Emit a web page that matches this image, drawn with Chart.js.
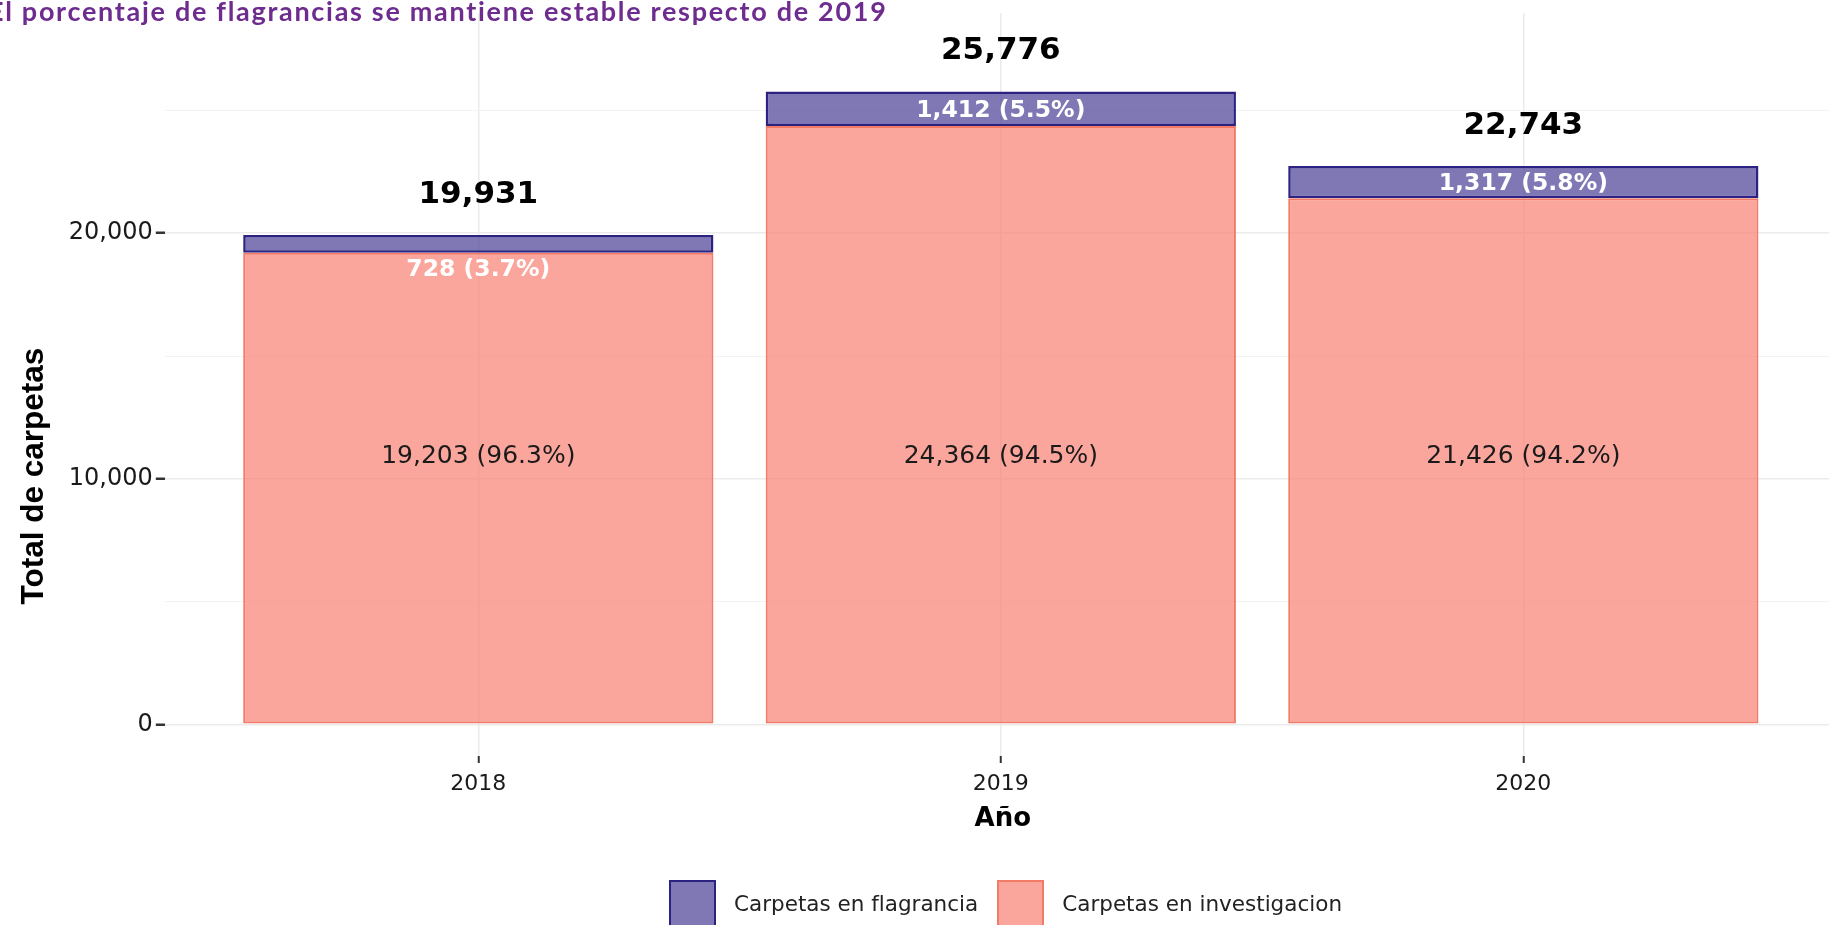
<!DOCTYPE html>
<html lang="es">
<head>
<meta charset="utf-8">
<title>Carpetas de investigación 2018–2020</title>
<script src="https://cdn.jsdelivr.net/npm/chart.js@4"></script>
<style>
  html, body { margin: 0; padding: 0; background: #fff; }
  #wrap { position: relative; width: 1829px; height: 925px; overflow: hidden; background: #fff; }
  #chart { position: absolute; left: 0; top: 0; }
  #titulo {
    position: absolute; left: -12px; top: -3px; margin: 0;
    font: 700 27px Lato, sans-serif; line-height: 27px; letter-spacing: 1.7px;
    color: #6e2c8f; white-space: nowrap;
  }
  #leyenda {
    position: absolute; left: 669px; top: 880px;
    display: flex; align-items: center;
    font: 21.5px "DejaVu Sans", sans-serif; color: #222;
  }
  .item { display: flex; align-items: center; margin-right: 19px; }
  .caja { width: 47px; height: 47px; box-sizing: border-box; border: 2.5px solid; margin-right: 18px; }
</style>
</head>
<body>
<div id="wrap">
  <canvas id="chart" width="1829" height="925"></canvas>
  <h1 id="titulo">El porcentaje de flagrancias se mantiene estable respecto de 2019</h1>
  <div id="leyenda"></div>
</div>
<script>
// Carpetas abiertas por año
const anios = ['2018', '2019', '2020'];
const flagrancia = [728, 1412, 1317];
const investigacion = [19203, 24364, 21426];
const yTicks = [0, 5000, 10000, 15000, 20000, 25000];
const yTicksConEtiqueta = [0, 10000, 20000];

const totales = anios.map((_, i) => flagrancia[i] + investigacion[i]);

// altura (en unidades del eje) de las etiquetas de investigación
const Y_ETIQUETA_INTERIOR = 10900;

const fmt = v => v.toLocaleString('en-US');
const pct = (v, t) => (100 * v / t).toFixed(1) + '%';

const colores = {
  investigacion: { fondo: 'rgba(250,128,114,0.7)', borde: '#f27b68' },
  flagrancia: { fondo: 'rgba(72,62,150,0.7)', borde: '#2c2282' }
};

const etiquetas = {
  id: 'etiquetas',
  afterDatasetsDraw(chart) {
    const { ctx, scales: { x, y } } = chart;
    ctx.save();
    ctx.textAlign = 'center';
    ctx.textBaseline = 'middle';
    anios.forEach((_, i) => {
      const cx = x.getPixelForValue(i + 1);
      const total = totales[i];

      ctx.font = '25px "DejaVu Sans"';
      ctx.fillStyle = '#1a1a1a';
      ctx.fillText(`${fmt(investigacion[i])} (${pct(investigacion[i], total)})`,
        cx, y.getPixelForValue(Y_ETIQUETA_INTERIOR));

      const yTop = y.getPixelForValue(total);
      const yBase = y.getPixelForValue(investigacion[i]);
      const alto = yBase - yTop;
      const yEt = alto > 25 ? (yTop + yBase) / 2 + 2 : yBase + 17;
      ctx.font = 'bold 23.5px "DejaVu Sans"';
      ctx.fillStyle = '#ffffff';
      ctx.fillText(`${fmt(flagrancia[i])} (${pct(flagrancia[i], total)})`, cx, yEt);

      ctx.font = 'bold 31px "DejaVu Sans"';
      ctx.fillStyle = '#000000';
      ctx.fillText(fmt(total), cx, yTop - 40);
    });

    // título del eje horizontal, centrado en el panel
    ctx.font = 'bold 26px "DejaVu Sans"';
    ctx.fillStyle = '#000000';
    ctx.fillText('Año', x.getPixelForValue(2) + 2, 819);

    // título del eje vertical
    ctx.translate(34, 476);
    ctx.rotate(-Math.PI / 2);
    ctx.font = 'bold 31.5px "Liberation Sans"';
    ctx.fillText('Total de carpetas', 0, 0);
    ctx.restore();
  }
};

const esMayor = v => yTicksConEtiqueta.includes(v);

const chart = new Chart(document.getElementById('chart'), {
  type: 'bar',
  data: {
    datasets: [
      {
        label: 'Carpetas en investigacion',
        data: investigacion.map((v, i) => ({ x: i + 1, y: v })),
        backgroundColor: colores.investigacion.fondo,
        borderColor: colores.investigacion.borde,
        borderWidth: 2,
        borderSkipped: false,
        categoryPercentage: 1,
        barPercentage: 0.9
      },
      {
        label: 'Carpetas en flagrancia',
        data: flagrancia.map((v, i) => ({ x: i + 1, y: v })),
        backgroundColor: colores.flagrancia.fondo,
        borderColor: colores.flagrancia.borde,
        borderWidth: 2.5,
        borderSkipped: false,
        categoryPercentage: 1,
        barPercentage: 0.9
      }
    ]
  },
  options: {
    responsive: false,
    devicePixelRatio: 1,
    animation: false,
    layout: { padding: { top: 13, right: 0, bottom: 0, left: 0 } },
    plugins: { legend: { display: false }, tooltip: { enabled: false } },
    scales: {
      x: {
        type: 'linear',
        min: 0.4,
        max: 3.585,
        offset: false,
        stacked: true,
        afterBuildTicks: s => { s.ticks = anios.map((_, i) => ({ value: i + 1 })); },
        afterFit: s => { s.height = 169; s.paddingLeft = 0; s.paddingRight = 0; },
        border: { display: false },
        grid: { offset: false, color: '#ebebeb', lineWidth: 1.5, tickColor: '#333', tickWidth: 2, tickLength: 7 },
        ticks: {
          callback: v => anios[v - 1],
          font: { family: 'DejaVu Sans', size: 22 },
          color: '#1a1a1a',
          padding: 8,
          maxRotation: 0,
          autoSkip: false
        }
      },
      y: {
        min: -1290,
        max: 28970,
        stacked: true,
        afterBuildTicks: s => { s.ticks = yTicks.map(v => ({ value: v })); },
        afterFit: s => { s.width = 164.8; s.paddingTop = 0; s.paddingBottom = 0; },
        border: { display: false },
        grid: {
          color: c => esMayor(c.tick.value) ? '#ebebeb' : '#f3f3f3',
          lineWidth: c => esMayor(c.tick.value) ? 1.5 : 1,
          tickColor: c => esMayor(c.tick.value) ? '#333' : 'rgba(0,0,0,0)',
          tickWidth: 2.5,
          tickLength: 9
        },
        ticks: {
          callback: v => esMayor(v) ? fmt(v) : '',
          font: { family: 'DejaVu Sans', size: 24 },
          color: '#1a1a1a',
          padding: 3,
          autoSkip: false
        }
      }
    }
  },
  plugins: [etiquetas]
});

// leyenda: flagrancia primero, como en la pila
const leyenda = document.getElementById('leyenda');
[...chart.data.datasets].reverse().forEach(ds => {
  const item = document.createElement('div');
  item.className = 'item';
  const caja = document.createElement('span');
  caja.className = 'caja';
  caja.style.background = ds.backgroundColor;
  caja.style.borderColor = ds.borderColor;
  const txt = document.createElement('span');
  txt.textContent = ds.label;
  item.appendChild(caja);
  item.appendChild(txt);
  leyenda.appendChild(item);
});
</script>
</body>
</html>
